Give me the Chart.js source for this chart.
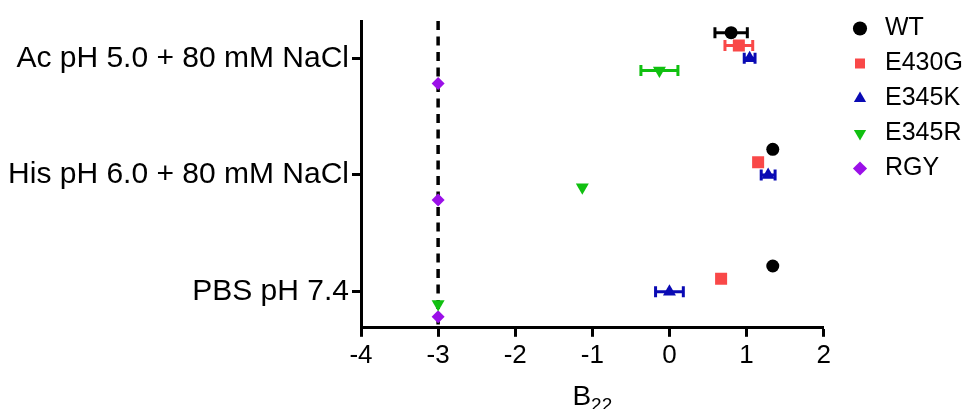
<!DOCTYPE html>
<html>
<head>
<meta charset="utf-8">
<script src="https://cdn.jsdelivr.net/npm/chart.js@4.4.1/dist/chart.umd.min.js"></script>
<style>
    body { margin: 0; background: #fff; }
    #box { width: 975px; height: 409px; }
</style>
</head>
<body>
<div id="box"><canvas id="myChart" width="975" height="409"></canvas></div>
<script>
// data
const categories = ['Ac pH 5.0 + 80 mM NaCl', 'His pH 6.0 + 80 mM NaCl', 'PBS pH 7.4'];
const seriesNames = ['WT', 'E430G', 'E345K', 'E345R', 'RGY'];
const WT = [0.80, 1.34, 1.34];
const WT_err = [0.21, 0, 0];
const E430G = [0.90, 1.15, 0.67];
const E430G_err = [0.18, 0, 0];
const E345K = [1.04, 1.28, 0.00];
const E345K_err = [0.07, 0.09, 0.18];
const E345R = [-0.13, -1.13, -3.0];
const E345R_err = [0.24, 0, 0];
const RGY = [-3.0, -3.0, -3.0];
const RGY_err = [0, 0, 0];
const xTicks = [-4, -3, -2, -1, 0, 1, 2];
const refLine = -3;

const values = [WT, E430G, E345K, E345R, RGY];
const errors = [WT_err, E430G_err, E345K_err, E345R_err, RGY_err];

// look of each series
const colors = ['#000000', '#f94848', '#0a0ab4', '#10c010', '#9b10e8'];
const styles = ['circle', 'rect', 'triangle', 'triangle', 'rectRot'];
const rotations = [0, 0, 0, 180, 0];
const radii = [6.5, 8.5, 7.5, 7.5, 6.5];
const offsets = [-0.22, -0.11, 0, 0.105, 0.215];

const FONT = "'Liberation Sans', Arial, sans-serif";

const datasets = seriesNames.map(function (name, i) {
    return {
        label: name,
        data: values[i].map(function (v, c) { return { x: v, y: c + offsets[i], err: errors[i][c] } }),
        backgroundColor: colors[i],
        borderColor: colors[i],
        borderWidth: 0,
        pointStyle: styles[i],
        pointRotation: rotations[i],
        pointRadius: radii[i],
        pointHoverRadius: radii[i]
    }
});

// dashed line at x = -3
const refLinePlugin = {
    id: 'refLine',
    beforeDatasetsDraw(chart) {
        const ctx = chart.ctx, area = chart.chartArea;
        const x = chart.scales.x.getPixelForValue(refLine);
        ctx.save();
        ctx.strokeStyle = '#000';
        ctx.lineWidth = 3.5;
        ctx.setLineDash([9, 6.5]);
        ctx.beginPath();
        ctx.moveTo(x, area.top);
        ctx.lineTo(x, area.bottom);
        ctx.stroke();
        ctx.restore();
    }
};

// horizontal error bars
const errorBars = {
    id: 'errorBars',
    afterDatasetsDraw(chart) {
        const ctx = chart.ctx, xs = chart.scales.x;
        ctx.save();
        ctx.lineWidth = 3;
        chart.data.datasets.forEach(function (ds, i) {
            const meta = chart.getDatasetMeta(i);
            ds.data.forEach(function (d, j) {
                if (!d.err) return;
                const y = meta.data[j].y;
                const x1 = xs.getPixelForValue(d.x - d.err);
                const x2 = xs.getPixelForValue(d.x + d.err);
                ctx.strokeStyle = ds.borderColor;
                ctx.beginPath();
                ctx.moveTo(x1, y); ctx.lineTo(x2, y);
                ctx.moveTo(x1, y - 5.5); ctx.lineTo(x1, y + 5.5);
                ctx.moveTo(x2, y - 5.5); ctx.lineTo(x2, y + 5.5);
                ctx.stroke();
            });
        });
        ctx.restore();
    }
};

// x title B22 with subscript
const xTitle = {
    id: 'xTitle',
    afterDraw(chart) {
        const ctx = chart.ctx, area = chart.chartArea;
        const cx = (area.left + area.right) / 2;
        ctx.save();
        ctx.fillStyle = '#000';
        ctx.textBaseline = 'alphabetic';
        ctx.font = '28px ' + FONT;
        const wB = ctx.measureText('B').width;
        ctx.font = '19px ' + FONT;
        const wS = ctx.measureText('22').width;
        const left = cx - (wB + wS) / 2;
        ctx.font = '28px ' + FONT;
        ctx.fillText('B', left, 405);
        ctx.font = '19px ' + FONT;
        ctx.fillText('22', left + wB, 411);
        ctx.restore();
    }
};

// move legend to where it sits in the figure
const legendPlace = {
    id: 'legendPlace',
    afterLayout(chart) {
        const lg = chart.legend;
        const dy = 6 - lg.top;
        const dx = 837.5 - lg.left;
        lg.top += dy; lg.bottom += dy;
        lg.left += dx; lg.right += dx;
    }
};

const config = {
    type: 'scatter',
    data: { datasets: datasets },
    options: {
        responsive: false,
        animation: false,
        layout: { padding: { left: 0, top: 15, right: 16, bottom: 35 } },
        plugins: {
            legend: {
                position: 'right',
                align: 'start',
                labels: {
                    usePointStyle: true,
                    boxHeight: 10,
                    padding: 10,
                    color: '#000',
                    font: { family: FONT, size: 25 }
                }
            },
            tooltip: { enabled: false }
        },
        scales: {
            x: {
                type: 'linear',
                min: -4,
                max: 2,
                afterBuildTicks(scale) { scale.ticks = xTicks.map(function (v) { return { value: v } }) },
                grid: { drawOnChartArea: false, drawTicks: true, tickLength: 9, tickWidth: 3, color: '#000' },
                border: { color: '#000', width: 3 },
                ticks: { color: '#000', padding: 3, font: { family: FONT, size: 26 } }
            },
            y: {
                type: 'linear',
                reverse: true,
                min: -0.32,
                max: 2.31,
                afterBuildTicks(scale) { scale.ticks = categories.map(function (c, i) { return { value: i } }) },
                afterFit(scale) { scale.width = 361 },
                grid: { drawOnChartArea: false, drawTicks: true, tickLength: 9, tickWidth: 3, color: '#000' },
                border: { color: '#000', width: 3 },
                ticks: {
                    color: '#000', padding: 3, font: { family: FONT, size: 30 },
                    callback: function (v) { return categories[v] }
                }
            }
        }
    },
    plugins: [refLinePlugin, errorBars, xTitle, legendPlace]
};

const myChart = new Chart(document.getElementById('myChart'), config);
</script>
</body>
</html>
